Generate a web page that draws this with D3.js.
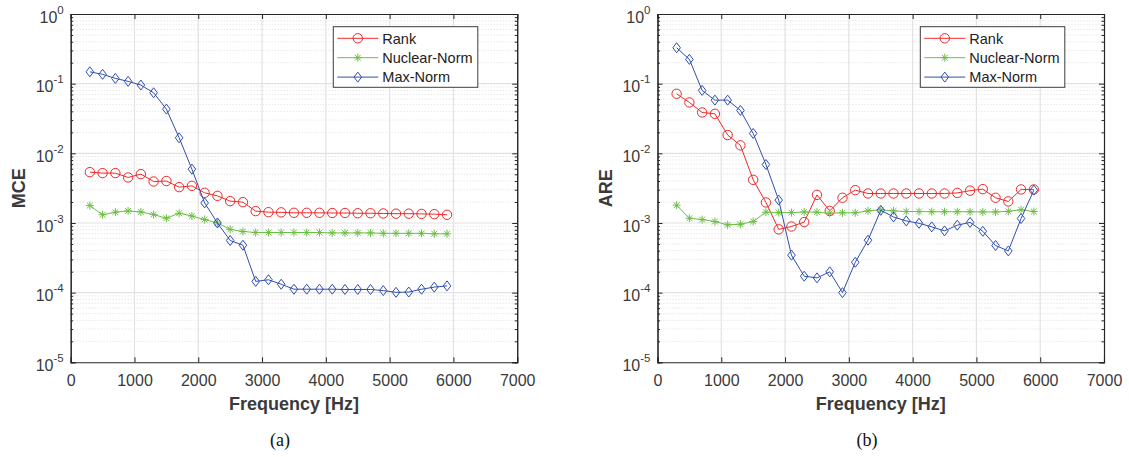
<!DOCTYPE html>
<html><head><meta charset="utf-8">
<script src="https://cdn.jsdelivr.net/npm/d3@7"></script>
<style>body{margin:0;background:#fff}svg{display:block}</style>
</head><body>
<svg id="chart" width="1129" height="457"></svg>
<script>
const freq = [300,500,700,900,1100,1300,1500,1700,1900,2100,2300,2500,2700,2900,3100,3300,3500,3700,3900,4100,4300,4500,4700,4900,5100,5300,5500,5700,5900];
const xTicks = [0,1000,2000,3000,4000,5000,6000,7000];
const yExps = [0,-1,-2,-3,-4,-5];
const seriesNames = ["Rank","Nuclear-Norm","Max-Norm"];

const mceRank = [0.00537,0.0052,0.0052,0.0045,0.00503,0.00394,0.0040,0.00327,0.00341,0.00271,0.00245,0.00206,0.00199,0.00148,0.00143,0.00142,0.0014,0.0014,0.0014,0.00139,0.00139,0.00138,0.00138,0.00137,0.00136,0.00136,0.00135,0.00134,0.00131];
const mceNuclear = [0.00178,0.00131,0.00143,0.00149,0.00144,0.00132,0.00117,0.00138,0.00126,0.00112,0.001,0.00081,0.000755,0.00073,0.00073,0.00073,0.00073,0.00073,0.00073,0.00072,0.00072,0.00072,0.00072,0.00071,0.00071,0.00071,0.00071,0.0007,0.0007];
const mceMax = [0.148,0.136,0.119,0.108,0.0955,0.074,0.0431,0.0167,0.00593,0.00194,0.001,0.00056,0.00048,0.000145,0.000153,0.000132,0.000112,0.000112,0.000112,0.000112,0.000111,0.000111,0.000111,0.000107,0.000101,0.000102,0.000112,0.00012,0.000125];

const areRank = [0.0716,0.0538,0.0386,0.0369,0.0183,0.013,0.00416,0.00197,0.00081,0.00089,0.00103,0.00253,0.00149,0.0023,0.00296,0.00265,0.00265,0.00265,0.00265,0.00265,0.00265,0.00265,0.0027,0.00291,0.00306,0.0023,0.00204,0.00303,0.00303];
const areNuclear = [0.0018,0.00117,0.00112,0.00105,0.00094,0.00096,0.00105,0.00143,0.00141,0.00141,0.00144,0.00143,0.00138,0.0014,0.0014,0.00149,0.00155,0.00149,0.00146,0.00146,0.00145,0.00145,0.00145,0.00145,0.00144,0.00144,0.00147,0.00155,0.00146];
const areMax = [0.328,0.223,0.080,0.058,0.058,0.0413,0.0193,0.0069,0.00213,0.000345,0.000172,0.000163,0.000199,0.0001,0.000273,0.000566,0.00152,0.00122,0.00107,0.00099,0.00088,0.00077,0.00093,0.00102,0.00076,0.000475,0.000397,0.00116,0.00296];

const colors = ["#f02828","#6cbf45","#2f4fae"];
const markers = ["circle","asterisk","diamond"];
const textCol = "#3a3a3a";
const axisCol = "#262626";
const sans = "'Liberation Sans', Arial, Helvetica, sans-serif";

const svg = d3.select("#chart");

function drawMarker(g, type, cx, cy, color){
  if(type==="circle"){
    g.append("circle").attr("cx",cx).attr("cy",cy).attr("r",4.7)
     .attr("fill","none").attr("stroke",color).attr("stroke-width",1);
  } else if(type==="diamond"){
    g.append("path").attr("d",`M${cx},${cy-5}L${cx+3.8},${cy}L${cx},${cy+5}L${cx-3.8},${cy}Z`)
     .attr("fill","none").attr("stroke",color).attr("stroke-width",1);
  } else {
    const s=4, d=2.9;
    g.append("path").attr("d",`M${cx-s},${cy}L${cx+s},${cy}M${cx},${cy-s}L${cx},${cy+s}M${cx-d},${cy-d}L${cx+d},${cy+d}M${cx-d},${cy+d}L${cx+d},${cy-d}`)
     .attr("fill","none").attr("stroke",color).attr("stroke-width",1);
  }
}

function panel(x0, yLabel, caption, captionX, data, legendX){
  const W = 446.5, top = 14, bottom = 362.3;
  const x = d3.scaleLinear().domain([0,7000]).range([x0, x0+W]);
  const y = d3.scaleLog().domain([1e-5,1]).range([bottom, top]);
  const g = svg.append("g");

  const minors = [];
  for(let e=-5;e<0;e++) for(let m=2;m<=9;m++) minors.push(m*Math.pow(10,e));
  g.selectAll(null).data(minors).join("line")
    .attr("x1",x0).attr("x2",x0+W).attr("y1",d=>y(d)).attr("y2",d=>y(d))
    .attr("stroke","#d4d4d4").attr("stroke-width",0.8).attr("stroke-dasharray","1,2");
  g.selectAll(null).data(xTicks.slice(1,-1)).join("line")
    .attr("x1",d=>x(d)).attr("x2",d=>x(d)).attr("y1",top).attr("y2",bottom)
    .attr("stroke","#e2e2e2").attr("stroke-width",1.2);
  g.selectAll(null).data(yExps.slice(1,-1)).join("line")
    .attr("x1",x0).attr("x2",x0+W).attr("y1",d=>y(Math.pow(10,d))).attr("y2",d=>y(Math.pow(10,d)))
    .attr("stroke","#e2e2e2").attr("stroke-width",1.2);

  const axB = d3.axisBottom(x).tickValues(xTicks).tickSize(-5).tickFormat(d3.format("d")).tickPadding(13.5);
  const gb = g.append("g").attr("transform",`translate(0,${bottom})`).call(axB);
  const axT = d3.axisTop(x).tickValues(xTicks).tickSize(-5).tickFormat("");
  const gt = g.append("g").attr("transform",`translate(0,${top})`).call(axT);
  const yMajor = yExps.map(e=>Math.pow(10,e));
  const axL = d3.axisLeft(y).tickValues(yMajor).tickSize(-5).tickFormat("");
  const gl = g.append("g").attr("transform",`translate(${x0},0)`).call(axL);
  const axR = d3.axisRight(y).tickValues(yMajor).tickSize(-5).tickFormat("");
  const gr = g.append("g").attr("transform",`translate(${x0+W},0)`).call(axR);
  const axLm = d3.axisLeft(y).tickValues(minors).tickSize(-2.5).tickFormat("");
  const glm = g.append("g").attr("transform",`translate(${x0},0)`).call(axLm);
  const axRm = d3.axisRight(y).tickValues(minors).tickSize(-2.5).tickFormat("");
  const grm = g.append("g").attr("transform",`translate(${x0+W},0)`).call(axRm);
  [gb,gt,gl,gr,glm,grm].forEach(a=>{
    a.selectAll("path,line").attr("stroke",axisCol).attr("stroke-width",1);
    a.select(".domain").attr("stroke-width",1.1);
  });
  gb.selectAll("text").attr("font-family",sans).attr("font-size",16).attr("fill",textCol).attr("dy","0.62em");

  yExps.forEach(e=>{
    const t = g.append("text").attr("x",x0-7).attr("y",y(Math.pow(10,e))+8.7)
      .attr("text-anchor","end").attr("font-family",sans)
      .attr("font-size",16).attr("fill",textCol);
    t.append("tspan").text("10");
    t.append("tspan").attr("dy",-9).attr("font-size",11.5).text(String(e));
  });

  data.forEach((vals,i)=>{
    const pts = freq.map((f,j)=>[x(f),y(vals[j])]);
    g.append("path").attr("d",d3.line()(pts)).attr("fill","none")
      .attr("stroke",colors[i]).attr("stroke-width",1);
    const mg = g.append("g");
    pts.forEach(p=>drawMarker(mg,markers[i],p[0],p[1],colors[i]));
  });

  const lg = g.append("g");
  lg.append("rect").attr("x",legendX).attr("y",26.7).attr("width",144.5).attr("height",60.6)
    .attr("fill","#fff").attr("stroke","#3c3c3c").attr("stroke-width",1);
  seriesNames.forEach((n,i)=>{
    const ly = 38.3 + i*19.4;
    lg.append("line").attr("x1",legendX+4).attr("x2",legendX+45).attr("y1",ly).attr("y2",ly)
      .attr("stroke",colors[i]).attr("stroke-width",1);
    drawMarker(lg,markers[i],legendX+24.5,ly,colors[i]);
    lg.append("text").attr("x",legendX+49).attr("y",ly+5.2).text(n)
      .attr("font-family",sans).attr("font-size",14.5).attr("fill","#222");
  });

  g.append("text").attr("x",x0+W/2).attr("y",409.5).attr("text-anchor","middle")
    .attr("font-family",sans).attr("font-weight","bold")
    .attr("font-size",18).attr("fill",textCol).text("Frequency [Hz]");
  g.append("text").attr("transform",`translate(${x0-45-7},${(top+bottom)/2}) rotate(-90)`)
    .attr("dy","0.35em")
    .attr("text-anchor","middle").attr("font-family",sans).attr("font-weight","bold")
    .attr("font-size",18).attr("fill",textCol).text(yLabel);
  g.append("text").attr("x",captionX).attr("y",446).attr("text-anchor","middle")
    .attr("font-family","'Liberation Serif', 'Times New Roman', serif").attr("font-size",18)
    .attr("fill","#111").text(caption);
}

panel(70.7, "MCE", "(a)", 280, [mceRank, mceNuclear, mceMax], 333.3);
panel(657.5, "ARE", "(b)", 867, [areRank, areNuclear, areMax], 920.3);
</script>
</body></html>
